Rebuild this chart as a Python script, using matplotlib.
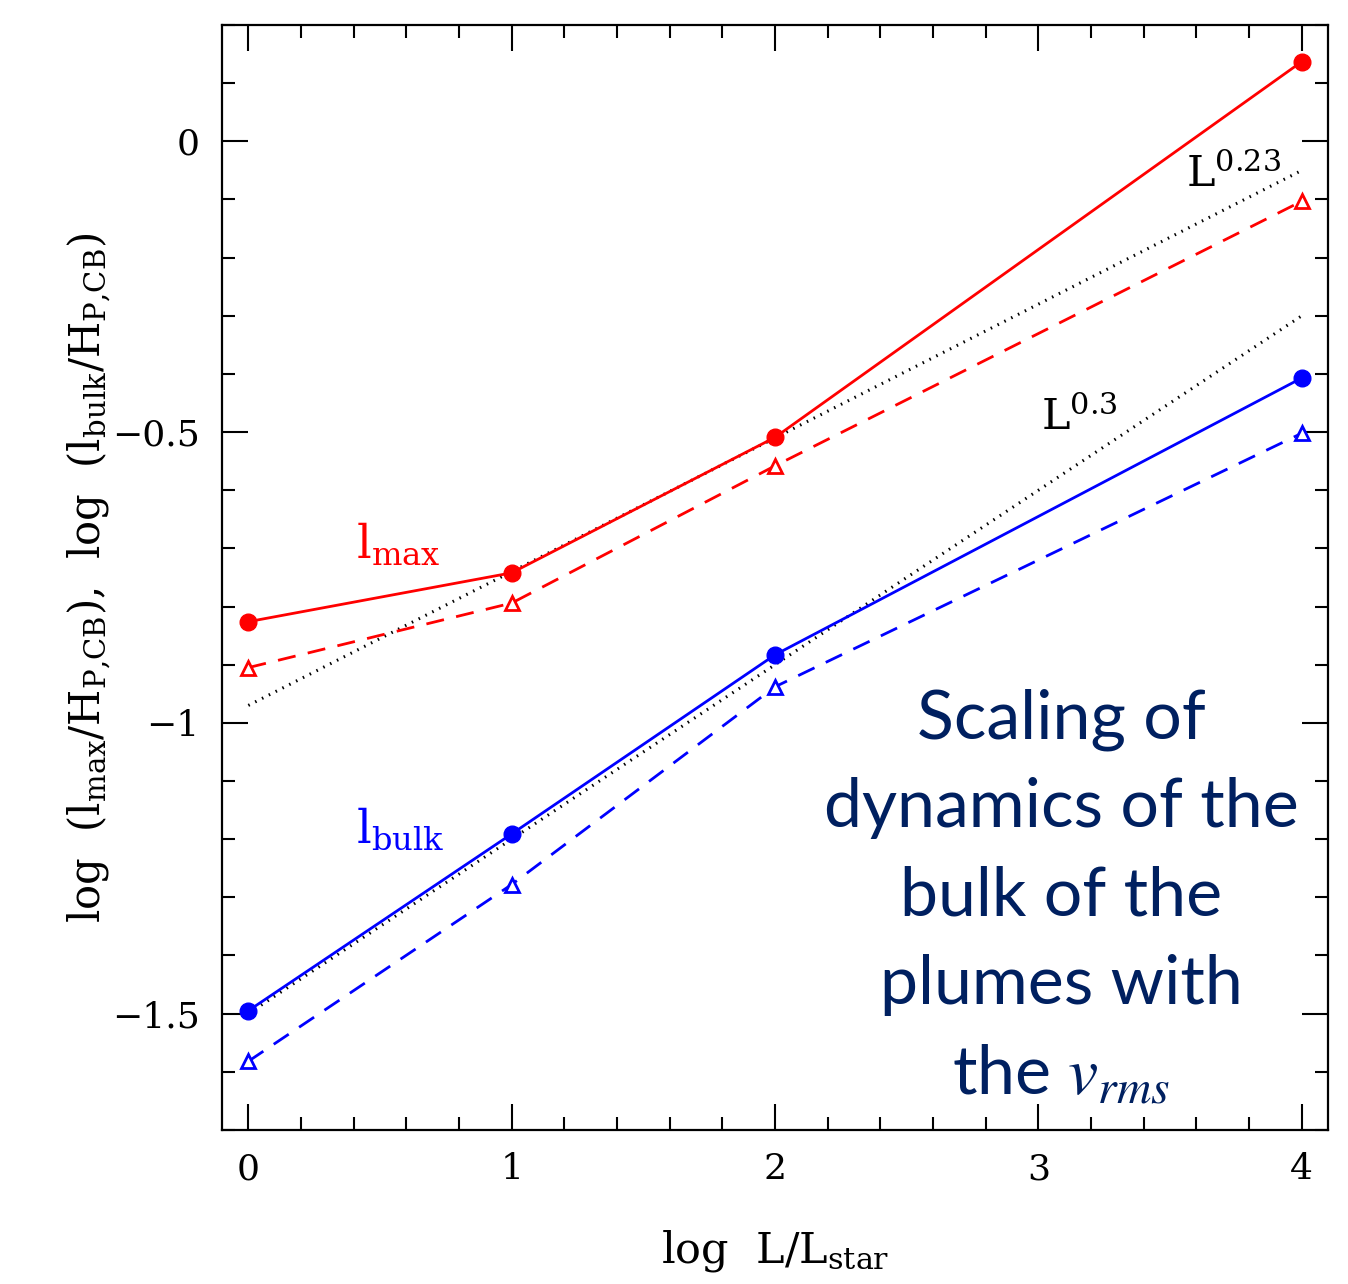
""" Scaling of l_max and l_bulk with luminosity, redrawn from a slide figure. """

import matplotlib
matplotlib.use('Agg')
import matplotlib.pyplot as plt
from matplotlib.ticker import MultipleLocator

# log L/L_star
log_l = [0, 1, 2, 4]

# log (l_max/H_P,CB): filled circles (solid) and open triangles (dashed)
lmax_circ = [-0.826, -0.742, -0.509, 0.137]
lmax_tri = [-0.905, -0.794, -0.558, -0.103]

# log (l_bulk/H_P,CB)
lbulk_circ = [-1.495, -1.191, -0.883, -0.407]
lbulk_tri = [-1.582, -1.278, -0.938, -0.502]

# reference power laws: offset + slope * log L
fit_x = [0, 4]
fit_023 = [-0.97 + 0.23 * x for x in fit_x]
fit_03 = [-1.50 + 0.30 * x for x in fit_x]

RED = '#ff0000'
BLUE = '#0000ff'
NAVY = '#002060'


def main():
    plt.rcParams['font.family'] = 'DejaVu Serif'
    plt.rcParams['mathtext.fontset'] = 'dejavuserif'

    fig = plt.figure(figsize=(13.48, 12.84), dpi=100)
    ax = fig.add_axes([0.1647, 0.12, 0.8205, 0.8605])

    # power law guides
    ax.plot(fit_x, fit_023, color='black', lw=2.2, ls=(0, (0.5, 2.0)))
    ax.plot(fit_x, fit_03, color='black', lw=2.2, ls=(0, (0.5, 2.0)))

    # l_max
    ax.plot(log_l, lmax_circ, color=RED, lw=2, marker='o', ms=12)
    ax.plot(log_l, lmax_tri, color=RED, lw=2, ls=(0, (6.5, 4.5)),
            marker='^', ms=10, mfc='white', mec=RED, mew=2)

    # l_bulk
    ax.plot(log_l, lbulk_circ, color=BLUE, lw=2, marker='o', ms=12)
    ax.plot(log_l, lbulk_tri, color=BLUE, lw=2, ls=(0, (6.5, 4.5)),
            marker='^', ms=10, mfc='white', mec=BLUE, mew=2)

    ax.set_xlim(-0.1, 4.1)
    ax.set_ylim(-1.7, 0.2)

    ax.xaxis.set_major_locator(MultipleLocator(1))
    ax.xaxis.set_minor_locator(MultipleLocator(0.2))
    ax.yaxis.set_minor_locator(MultipleLocator(0.1))
    ax.set_yticks([0, -0.5, -1, -1.5])
    ax.set_yticklabels(['0', '\u22120.5', '\u22121', '\u22121.5'])

    ax.tick_params(which='both', direction='in', top=True, right=True,
                   width=1.5, labelsize=26, pad=16)
    ax.tick_params(which='major', length=19)
    ax.tick_params(which='minor', length=9.5)
    for spine in ax.spines.values():
        spine.set_linewidth(1.6)

    ax.set_xlabel(r'log  $\mathrm{L/L_{star}}$', fontsize=31, labelpad=30)
    ax.set_ylabel(r'log  $(\mathrm{l_{max}/H_{P{,}CB}})$,  '
                  r'log  $(\mathrm{l_{bulk}/H_{P{,}CB}})$',
                  fontsize=30)
    ax.yaxis.set_label_coords(-0.098, 0.5)

    # curve labels
    ax.text(0.41, -0.694, r'$\mathrm{l_{max}}$', color=RED, fontsize=33,
            va='center', ha='left')
    ax.text(0.41, -1.184, r'$\mathrm{l_{bulk}}$', color=BLUE, fontsize=33,
            va='center', ha='left')
    ax.text(3.56, -0.058, r'$\mathrm{L^{0.23}}$', color='black', fontsize=31,
            va='center', ha='left')
    ax.text(3.01, -0.476, r'$\mathrm{L^{0.3}}$', color='black', fontsize=31,
            va='center', ha='left')

    # slide caption
    ax.text(3.087, -1.30,
            'Scaling of\ndynamics of the\nbulk of the\nplumes with\n'
            r'the $v_{rms}$',
            color=NAVY, fontsize=49, family='Lato', math_fontfamily='stix',
            ha='center', va='center', multialignment='center',
            linespacing=1.53)

    fig.savefig('out.png', dpi=100)


if __name__ == '__main__':
    main()
